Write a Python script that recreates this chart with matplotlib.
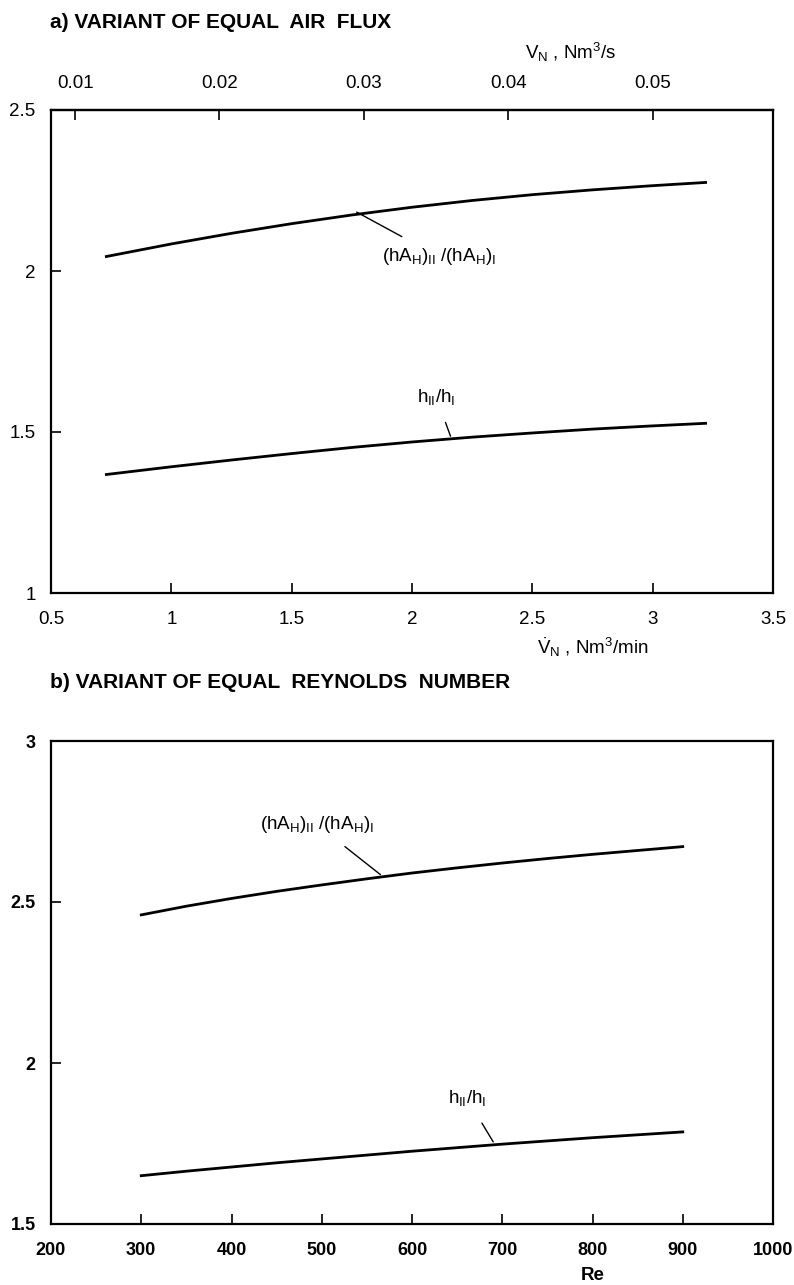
import matplotlib
matplotlib.use("Agg")
import matplotlib.pyplot as plt

plt.rcParams['font.family'] = ['Liberation Sans', 'DejaVu Sans']
plt.rcParams['mathtext.fontset'] = 'custom'
plt.rcParams['mathtext.rm'] = 'Liberation Sans'
plt.rcParams['mathtext.it'] = 'Liberation Sans'
plt.rcParams['mathtext.bf'] = 'Liberation Sans:bold'

# a) equal air flux, x in Nm3/min
flow = [0.73, 1.0, 1.25, 1.5, 1.75, 2.0, 2.25, 2.5, 2.75, 3.0, 3.22]
hA_ratio_a = [2.045, 2.084, 2.117, 2.147, 2.174, 2.198, 2.219, 2.237, 2.252, 2.265, 2.275]
h_ratio_a = [1.368, 1.392, 1.413, 1.433, 1.452, 1.469, 1.484, 1.497, 1.509, 1.519, 1.527]

# b) equal Reynolds number
re = [300, 350, 400, 450, 500, 550, 600, 650, 700, 750, 800, 850, 900]
hA_ratio_b = [2.46, 2.487, 2.511, 2.533, 2.553, 2.572, 2.59, 2.606, 2.621, 2.635, 2.648, 2.66, 2.672]
h_ratio_b = [1.65, 1.664, 1.677, 1.69, 1.702, 1.714, 1.726, 1.737, 1.748, 1.758, 1.768, 1.777, 1.786]

flow_ticks = [0.5, 1, 1.5, 2, 2.5, 3, 3.5]
flow_s_ticks = [0.01, 0.02, 0.03, 0.04, 0.05]
re_ticks = [200, 300, 400, 500, 600, 700, 800, 900, 1000]

LBL_HA = r'(hA$_\mathrm{H}$)$_\mathrm{II}$ /(hA$_\mathrm{H}$)$_\mathrm{I}$'
LBL_H = r'h$_\mathrm{II}$/h$_\mathrm{I}$'

W, H = 794, 1285
fig = plt.figure(figsize=(W / 100, H / 100), dpi=100)


def style(ax, size=13.5, weight='normal'):
    for s in ax.spines.values():
        s.set_linewidth(1.6)
    ax.tick_params(direction='in', length=7, width=1.2, labelsize=size, pad=11)
    ax.tick_params(axis='x', pad=13)
    for t in ax.get_xticklabels() + ax.get_yticklabels():
        t.set_fontweight(weight)


def fmt(v):
    return f'{v:g}'


def pointer(ax, text, xy, xytext):
    ax.annotate(text, xy=xy, xytext=xytext, ha='center', va='center',
                fontsize=13.5,
                arrowprops=dict(arrowstyle='-', color='black', lw=1.0,
                                shrinkA=10, shrinkB=0))


# ---- panel a ----
ax1 = fig.add_axes([51 / W, 1 - 593 / H, 722 / W, 483 / H])
ax1.plot(flow, hA_ratio_a, color='black', lw=2.0)
ax1.plot(flow, h_ratio_a, color='black', lw=2.0)
ax1.set_xlim(0.5, 3.5)
ax1.set_ylim(1, 2.5)
ax1.set_xticks(flow_ticks)
ax1.set_xticklabels([fmt(v) for v in flow_ticks])
ax1.set_yticks([1, 1.5, 2, 2.5])
ax1.set_yticklabels(['1', '1.5', '2', '2.5'])
style(ax1)

top = ax1.secondary_xaxis('top', functions=(lambda x: x / 60, lambda x: x * 60))
top.set_xticks(flow_s_ticks)
top.set_xticklabels([fmt(v) for v in flow_s_ticks])
top.tick_params(direction='in', length=7, width=1.2, labelsize=13.5, pad=13)
top.spines['top'].set_linewidth(1.6)

pointer(ax1, LBL_HA, (1.77, 2.183), (2.11, 2.045))
pointer(ax1, LBL_H, (2.16, 1.487), (2.1, 1.61))

fig.text(50 / W, 1 - 22 / H, 'a) VARIANT OF EQUAL  AIR  FLUX',
         fontsize=15, fontweight='bold', ha='left', va='center')
fig.text(525 / W, 1 - 52 / H, r'V$_\mathrm{N}$ , Nm$^3$/s',
         fontsize=13.5, ha='left', va='center')
fig.text(537 / W, 1 - 647 / H, r'$\mathrm{\dot{V}_N}$ , Nm$^3$/min',
         fontsize=13.5, ha='left', va='center')

# ---- panel b ----
ax2 = fig.add_axes([51 / W, 1 - 1224 / H, 722 / W, 483 / H])
ax2.plot(re, hA_ratio_b, color='black', lw=2.0)
ax2.plot(re, h_ratio_b, color='black', lw=2.0)
ax2.set_xlim(200, 1000)
ax2.set_ylim(1.5, 3)
ax2.set_xticks(re_ticks)
ax2.set_yticks([1.5, 2, 2.5, 3])
ax2.set_yticklabels(['1.5', '2', '2.5', '3'])
style(ax2, size=13, weight='bold')

pointer(ax2, LBL_HA, (565, 2.585), (495, 2.74))
pointer(ax2, LBL_H, (690, 1.755), (661, 1.89))

fig.text(50 / W, 1 - 682 / H, 'b) VARIANT OF EQUAL  REYNOLDS  NUMBER',
         fontsize=15, fontweight='bold', ha='left', va='center')
ax2.set_xlabel('Re', fontsize=13.5, fontweight='bold')
ax2.xaxis.label.set_va('top')
ax2.xaxis.set_label_coords((800 - 200) / 800, -0.09)

fig.savefig('out.png', dpi=100)
